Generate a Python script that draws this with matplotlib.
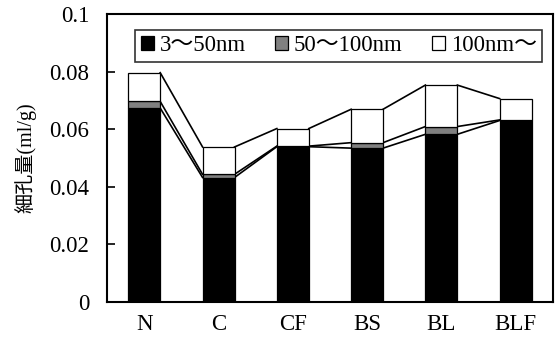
import matplotlib
matplotlib.use("Agg")
import matplotlib.pyplot as plt
import numpy as np

categories = ["N", "C", "CF", "BS", "BL", "BLF"]
s_small = [0.0673, 0.0432, 0.0539, 0.0534, 0.0582, 0.0630]
s_mid = [0.0023, 0.0011, 0.0002, 0.0019, 0.0027, 0.0002]
s_large = [0.0100, 0.0095, 0.0061, 0.0116, 0.0144, 0.0074]
series_names = ["3〜50nm", "50〜100nm", "100nm〜"]
series_colors = ["black", "#808080", "white"]
yticks = [0, 0.02, 0.04, 0.06, 0.08, 0.1]
ytick_labels = ["0", "0.02", "0.04", "0.06", "0.08", "0.1"]

fam = ["Liberation Serif", "Noto Sans CJK JP"]
plt.rcParams['font.family'] = fam

fig = plt.figure(figsize=(5.55, 3.49), dpi=100)
ax = fig.add_axes([0.193, 0.135, 0.803, 0.825])

x = np.arange(len(categories))
w = 0.43
bottom = np.zeros(len(categories))
for vals, name, col in zip([s_small, s_mid, s_large], series_names, series_colors):
    vals = np.array(vals)
    ax.bar(x, vals, w, bottom=bottom, color=col, edgecolor="black", linewidth=0.9,
           label=name, zorder=3)
    top = bottom + vals
    for i in range(len(categories) - 1):
        ax.plot([x[i] + w / 2, x[i + 1] - w / 2], [top[i], top[i + 1]],
                color="black", lw=1.2, zorder=2)
    bottom = top

ax.set_xlim(-0.5, len(categories) - 0.5)
ax.set_ylim(0, 0.1)
ax.set_yticks(yticks)
ax.set_yticklabels(ytick_labels, fontsize=16.5)
ax.set_xticks(x)
ax.set_xticklabels(categories, fontsize=16.5)
ax.tick_params(axis='y', direction='in', length=6, width=1.2, pad=13)
ax.tick_params(axis='x', length=0, pad=9)
for sp in ax.spines.values():
    sp.set_linewidth(1.5)
    sp.set_color("black")

ax.set_ylabel("細孔量(ml/g)", fontsize=14.5, labelpad=9)

leg = ax.legend(loc="upper center", ncol=3, fontsize=16.5, frameon=True, fancybox=False,
                edgecolor="black", handlelength=0.55, handleheight=0.55, handletextpad=0.25,
                columnspacing=1.3, borderpad=0.25, bbox_to_anchor=(0.52, 0.985))
leg.get_frame().set_linewidth(1.2)

fig.savefig("out.png", dpi=100)
